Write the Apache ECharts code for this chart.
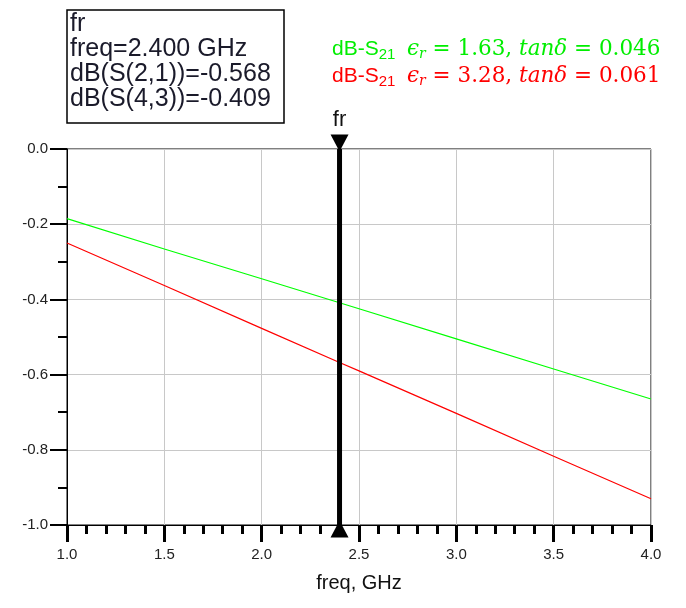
<!DOCTYPE html>
<html><head><meta charset="utf-8">
<script src="https://cdn.jsdelivr.net/npm/echarts@6/dist/echarts.min.js"></script>
<style>html,body{margin:0;padding:0;background:#fff}#c{width:686px;height:608px}</style>
</head><body><div id="c"></div>
<script>
const freqs = [1.0, 1.5, 2.0, 2.4, 2.5, 3.0, 3.5, 4.0];
const s21Green = [-0.185, -0.266, -0.345, -0.409, -0.425, -0.505, -0.585, -0.665];
const s21Red = [-0.250, -0.363, -0.477, -0.568, -0.590, -0.703, -0.817, -0.930];
const markerFreq = 2.4;
const yRange = [0.0, -1.0];
const xTicks = ['1.0','1.5','2.0','2.5','3.0','3.5','4.0'];
const boxLines = ['fr', 'freq=2.400 GHz', 'dB(S(2,1))=-0.568', 'dB(S(4,3))=-0.409'];

const chart = echarts.init(document.getElementById('c'), null, {renderer:'canvas'});
const sans = 'Liberation Sans, Arial, sans-serif';
const serif = 'DejaVu Serif, serif';
function legendRich(color){
  return {
    a:{fontFamily:sans, fontWeight:'normal', fontSize:21, color:color},
    s:{fontFamily:sans, fontWeight:'normal', fontSize:15, color:color, padding:[10,0,0,0]},
    m:{fontFamily:serif, fontWeight:'normal', fontStyle:'italic', fontSize:21.5, color:color},
    ms:{fontFamily:serif, fontWeight:'normal', fontStyle:'italic', fontSize:14, color:color, padding:[10,0,0,0]},
    n:{fontFamily:serif, fontWeight:'normal', fontSize:21.5, color:color}
  };
}
function legendText(er, tand){
  return '{a|dB-S}{s|21}{a|  }{m|ϵ}{ms|r}{n| = ' + er + ', }{m|tanδ}{n| = ' + tand + '}';
}
const option = {
  animation:false,
  title:[
    {left:332, top:37, padding:[0,0,0,0], text:legendText('1.63','0.046'), textStyle:{fontWeight:'normal', rich:legendRich('#00ee00')}},
    {left:332, top:64, padding:[0,0,0,0], text:legendText('3.28','0.061'), textStyle:{fontWeight:'normal', rich:legendRich('#ff0000')}}
  ],
  grid:{left:67, right:35, top:149, bottom:83, show:true, borderColor:'#000', borderWidth:1},
  xAxis:{type:'value', min:1, max:4, interval:0.5,
    name:'freq, GHz', nameLocation:'middle', nameGap:48,
    nameTextStyle:{fontFamily:sans, fontSize:20, color:'#111'},
    axisLine:{show:true, onZero:false, lineStyle:{color:'#000', width:1}},
    axisTick:{show:true, inside:false, length:17, lineStyle:{color:'#000', width:3}},
    minorTick:{show:true, splitNumber:5, length:9, lineStyle:{color:'#000', width:3}},
    axisLabel:{fontFamily:sans, fontSize:15, color:'#222', margin:22,
      formatter:v=>xTicks.find(t=>Math.abs(parseFloat(t)-v)<1e-6)||v.toFixed(1)},
    splitLine:{show:true, lineStyle:{color:'#c8c8c8', width:1}}
  },
  yAxis:{type:'value', min:yRange[1], max:yRange[0], interval:0.2,
    axisLine:{show:true, onZero:false, lineStyle:{color:'#000', width:1}},
    axisTick:{show:true, inside:false, length:17, lineStyle:{color:'#000', width:2}},
    minorTick:{show:true, splitNumber:2, length:9, lineStyle:{color:'#000', width:2}},
    axisLabel:{fontFamily:sans, fontSize:15, color:'#222', margin:19, formatter:v=>v.toFixed(1)},
    splitLine:{show:true, lineStyle:{color:'#c8c8c8', width:1}}
  },
  graphic:[
    {type:'rect', shape:{x:67, y:10, width:217, height:113}, style:{fill:'#fff', stroke:'#000', lineWidth:1.5}},
    {type:'text', left:70, top:12, style:{text:boxLines.join('\n'), fontFamily:sans, fontSize:25, lineHeight:25, fill:'#1a1a2a'}}
  ],
  series:[
    {type:'line', data:freqs.map((f,i)=>[f,s21Green[i]]), showSymbol:false, lineStyle:{color:'#00ff00', width:1.2}, z:3},
    {type:'line', data:freqs.map((f,i)=>[f,s21Red[i]]), showSymbol:false, lineStyle:{color:'#ff0000', width:1.2}, z:3},
    {type:'line', data:[[markerFreq, yRange[0]],[markerFreq, yRange[1]]], showSymbol:false, lineStyle:{color:'#000', width:5}, z:5},
    {type:'scatter', clip:false, z:6, symbol:'triangle', symbolSize:[18,17], itemStyle:{color:'#000', opacity:1},
      data:[
        {value:[markerFreq, yRange[0]], symbolRotate:180, symbolOffset:[0,-6],
          label:{show:true, position:'top', distance:4, formatter:'fr', fontFamily:sans, fontSize:22, color:'#111'}},
        {value:[markerFreq, yRange[1]], symbolOffset:[0,4]}
      ]}
  ]
};
chart.setOption(option);
</script></body></html>
